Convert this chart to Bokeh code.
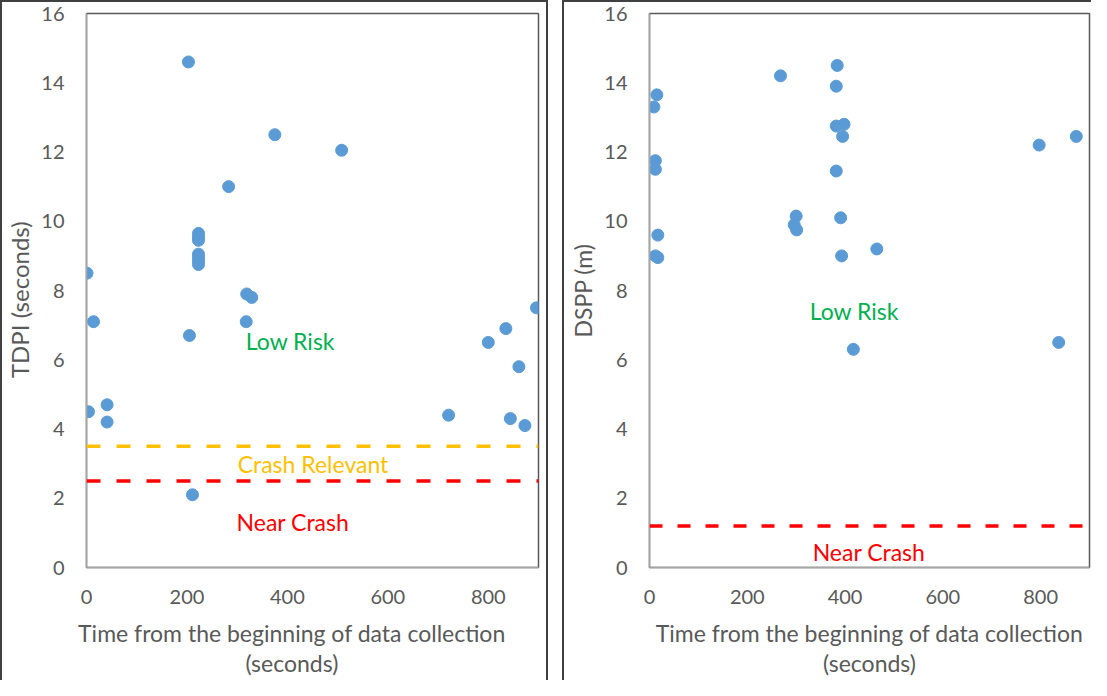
from bokeh.plotting import figure
from bokeh.models import Range1d, FixedTicker, Span, Label, Spacer
from bokeh.layouts import row
from bokeh.embed import file_html
from bokeh.resources import INLINE

# ---- data: left panel (TDPI) ----
tdpi_time = [1, 4, 14, 41, 41, 203, 205, 211, 223, 223, 223, 223, 223, 223, 223,
             283, 318, 319, 329, 375, 508, 721, 800, 835, 844, 861, 873, 896]
tdpi = [8.5, 4.5, 7.1, 4.7, 4.2, 14.6, 6.7, 2.1, 9.65, 9.55, 9.45, 9.05, 8.95, 8.85, 8.75,
        11.0, 7.1, 7.9, 7.8, 12.5, 12.05, 4.4, 6.5, 6.9, 4.3, 5.8, 4.1, 7.5]
tdpi_crash_relevant = 3.5
tdpi_near_crash = 2.5

# ---- data: right panel (DSPP) ----
dspp_time = [9, 15, 12, 12, 17, 12, 17, 268, 300, 296, 301, 384, 382, 382, 398, 395,
             382, 391, 393, 417, 465, 797, 837, 873]
dspp = [13.3, 13.65, 11.75, 11.5, 9.6, 9.0, 8.95, 14.2, 10.15, 9.9, 9.75, 14.5, 13.9,
        12.75, 12.8, 12.45, 11.45, 10.1, 9.0, 6.3, 9.2, 12.2, 6.5, 12.45]
dspp_near_crash = 1.2

x_ticks = [0, 200, 400, 600, 800]
y_ticks = [0, 2, 4, 6, 8, 10, 12, 14, 16]
x_title_1 = "Time from the beginning of data collection"
x_title_2 = "(seconds)"

FONT = "Lato"
GREY = "#595959"
BLUE = "#5B9BD5"
GREEN = "#00B050"
ORANGE = "#FFC000"
RED = "#FF0000"
H = 680
NB = "\u00a0"  # non-breaking space used as invisible padding to nudge centred titles


def base_fig(width, left, right, top, bottom, shadow):
    p = figure(width=width, height=H, output_backend="svg", toolbar_location=None,
               x_range=Range1d(0, 900), y_range=Range1d(0, 16),
               min_border_left=left, min_border_right=right,
               min_border_top=top, min_border_bottom=bottom)
    p.border_fill_color = None
    p.background_fill_color = "white"
    p.xgrid.grid_line_color = None
    p.ygrid.grid_line_color = None
    p.outline_line_color = "#595959"
    p.outline_line_width = 1.5
    p.xaxis.ticker = FixedTicker(ticks=x_ticks)
    p.yaxis.ticker = FixedTicker(ticks=y_ticks)
    for ax in (p.xaxis[0], p.yaxis[0]):
        ax.axis_line_color = "#A6A6A6"
        ax.axis_line_width = 1.5
        ax.major_tick_line_color = None
        ax.minor_tick_line_color = None
        ax.major_label_text_font = FONT
        ax.major_label_text_font_size = "20px"
        ax.major_label_text_color = GREY
        ax.axis_label_text_font = FONT
        ax.axis_label_text_font_style = "normal"
        ax.axis_label_text_color = GREY
    p.xaxis.major_label_standoff = 16
    p.yaxis.major_label_standoff = 16
    p.xaxis.axis_label_text_font_size = "23px"
    p.xaxis.axis_label_text_line_height = 1.1
    p.xaxis.axis_label_standoff = 12
    p.yaxis.axis_label_standoff = 4
    p.styles = {"box-shadow": shadow}
    return p


def data_label(p, x, y, text, color):
    p.add_layout(Label(x=x, y=y, text=text, text_align="center", text_baseline="middle",
                       text_font=FONT, text_font_size="23px", text_color=color))


# ---- left figure ----
p1 = base_fig(548, 86, 10, 13, 112,
              "inset 2px 2px 0 0 #404040, inset -2px 0 0 0 #404040")
p1.scatter(tdpi_time, tdpi, size=12, color=BLUE)
p1.add_layout(Span(location=tdpi_crash_relevant, dimension="width", line_color=ORANGE,
                   line_width=3.5, line_dash="14 16"))
p1.add_layout(Span(location=tdpi_near_crash, dimension="width", line_color=RED,
                   line_width=3.5, line_dash="14 16"))
data_label(p1, 406, 6.55, "Low Risk", GREEN)
data_label(p1, 451, 3.0, "Crash Relevant", ORANGE)
data_label(p1, 411, 1.3, "Near Crash", RED)
p1.xaxis.axis_label = x_title_1 + NB * 7 + "\n" + x_title_2 + NB * 7
p1.yaxis.axis_label = "TDPI (seconds)" + NB * 3
p1.yaxis.axis_label_text_font_size = "24px"

# ---- right figure ----
p2 = base_fig(529, 87, 2, 12, 112, "inset 2px 2px 0 0 #404040")
p2.scatter(dspp_time, dspp, size=12, color=BLUE)
p2.add_layout(Span(location=dspp_near_crash, dimension="width", line_color=RED,
                   line_width=3.5, line_dash="13 15"))
data_label(p2, 419, 7.4, "Low Risk", GREEN)
data_label(p2, 449, 0.45, "Near Crash", RED)
p2.xaxis.axis_label = x_title_1 + "\n" + x_title_2
p2.yaxis.axis_label = "DSPP (m)"
p2.yaxis.axis_label_text_font_size = "23px"

layout = row(p1, Spacer(width=14), p2)
open("out.html", "w").write(file_html(layout, INLINE))
